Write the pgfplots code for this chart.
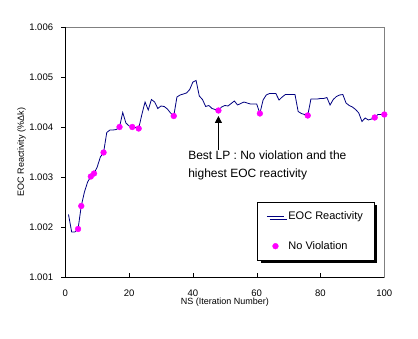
\documentclass[border=0pt]{standalone}
\usepackage{pgfplots}
\pgfplotsset{compat=1.18}
\usepackage{fontspec}
\setmainfont{Liberation Sans}
\usetikzlibrary{arrows.meta,shadows}
\definecolor{eocblue}{RGB}{0,0,128}
\definecolor{axgray}{RGB}{128,128,128}
\definecolor{nvmag}{RGB}{255,0,255}
\begin{document}
\begin{tikzpicture}
\path[use as bounding box] (-65.3pt,-62pt) rectangle (352.7pt,277pt);
\begin{axis}[
  at={(0,0)}, anchor=south west,
  scale only axis, width=319pt, height=250pt,
  xmin=0, xmax=100, ymin=1.001, ymax=1.006,
  xtick={0,20,40,60,80,100},
  ytick={1.001,1.002,1.003,1.004,1.005,1.006},
  scaled y ticks=false,
  xtick pos=bottom, ytick pos=left,
  tick align=inside, major tick length=4pt,
  ytick style={xshift=-4pt, black},
  xtick style={black},
  axis line style={draw=axgray},
  /pgf/number format/assume math mode=true,
  yticklabel={\pgfmathprintnumber[fixed,fixed zerofill,precision=3]{\tick}},
  yticklabel style={inner sep=0pt, xshift=-12pt, font=\fontsize{9.5}{11}\selectfont},
  xticklabel style={inner sep=0pt, yshift=-12.5pt, font=\fontsize{9.5}{11}\selectfont},
  xlabel={NS (Iteration Number)},
  ylabel={EOC Reactivity (\%Δk)},
  xlabel style={at={(axis description cs:0.5,-0.100)}, anchor=center, inner sep=0pt, font=\fontsize{9}{11}\selectfont},
  ylabel style={at={(axis description cs:-0.137,0.5)}, anchor=center, inner sep=0pt, font=\fontsize{9}{11}\selectfont},
  clip=false,
  legend cell align=left,
  legend style={at={(rel axis cs:0.602,0.299)}, anchor=north west, draw=black, fill=white,
    inner xsep=9pt, inner ysep=7.5pt, row sep=16pt,
    font=\fontsize{11}{12}\selectfont,
    drop shadow={shadow xshift=3pt, shadow yshift=-3pt, fill=black, opacity=1}},
]
\addplot[color=eocblue, line width=0.8pt, mark=none] coordinates {
(1,1.00225)(2,1.0019)(3,1.0019)(4,1.00196)(5,1.00242)(6,1.0027)(7,1.0029)(8,1.00301)(9,1.00307)(10,1.0032)
(11,1.0034)(12,1.00349)(13,1.00389)(14,1.00394)(15,1.00394)(16,1.00395)(17,1.0040)(18,1.00429)(19,1.00408)(20,1.00402)
(21,1.0040)(22,1.00399)(23,1.00397)(24,1.00425)(25,1.0045)(26,1.00434)(27,1.00455)(28,1.0045)(29,1.00437)(30,1.00442)
(31,1.00441)(32,1.00436)(33,1.00428)(34,1.00422)(35,1.0046)(36,1.00464)(37,1.00466)(38,1.00468)(39,1.00475)(40,1.0049)
(41,1.00493)(42,1.00462)(43,1.00455)(44,1.00441)(45,1.00443)(46,1.00437)(47,1.00435)(48,1.00433)(49,1.0044)(50,1.00443)
(51,1.00442)(52,1.00447)(53,1.00452)(54,1.00444)(55,1.00447)(56,1.0045)(57,1.00448)(58,1.00446)(59,1.00446)(60,1.00446)
(61,1.00427)(62,1.00454)(63,1.00464)(64,1.00467)(65,1.00467)(66,1.00467)(67,1.00454)(68,1.0046)(69,1.00465)(70,1.00465)
(71,1.00465)(72,1.00465)(73,1.00431)(74,1.00427)(75,1.00425)(76,1.00423)(77,1.00456)(78,1.00456)(79,1.00456)(80,1.00457)
(81,1.00457)(82,1.00459)(83,1.00444)(84,1.00455)(85,1.00461)(86,1.00464)(87,1.00465)(88,1.00448)(89,1.00443)(90,1.0044)
(91,1.00435)(92,1.00428)(93,1.00411)(94,1.00418)(95,1.00414)(96,1.00416)(97,1.00419)(98,1.00425)(99,1.00425)(100,1.00425)
};
\addlegendentry{\hspace{2pt}EOC Reactivity}
\addplot[only marks, mark=*, mark size=2.9pt, color=nvmag, mark options={fill=nvmag, draw=nvmag}] coordinates {
(4,1.00196)(5,1.00242)(8,1.00301)(9,1.00307)(12,1.00349)(17,1.0040)(21,1.0040)(23,1.00397)
(34,1.00422)(48,1.00433)(61,1.00427)(76,1.00423)(97,1.00419)(100,1.00425)
};
\addlegendentry{\hspace{2pt}No Violation}
\draw[black, line width=0.8pt] (rel axis cs:0,1) -- (rel axis cs:0,0) -- (rel axis cs:1,0);
\draw[black, line width=0.8pt, -{Triangle[width=7pt,length=7pt]}] (axis cs:48,1.00354) -- (axis cs:48,1.00422);
\node[anchor=base west, inner sep=0pt, font=\fontsize{12}{14}\selectfont] at (axis cs:38.5,1.00335) {Best LP : No violation and the};
\node[anchor=base west, inner sep=0pt, font=\fontsize{12}{14}\selectfont] at (axis cs:38.5,1.00298) {highest EOC reactivity};
\end{axis}
\end{tikzpicture}
\end{document}
